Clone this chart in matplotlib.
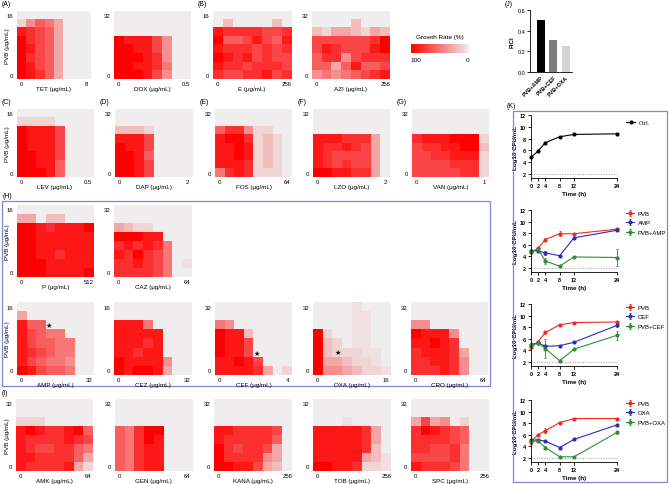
import numpy as np
import matplotlib
matplotlib.use('Agg')
import matplotlib.pyplot as plt
from matplotlib.colors import LinearSegmentedColormap
from matplotlib.patches import Rectangle

# ---------------- data: growth rate (%) / 10, rows top (high PVB) -> bottom (PVB 0)
TET = [[0,0,0,0,0,0,0,0],[1,4,6,5,3,0,0,0],[9,8,7,6,3,0,0,0],[10,8,7,6,3,0,0,0],
       [10,9,7,6,3,0,0,0],[10,8,7,6,3,0,0,0],[10,9,7,6,3,0,0,0],[10,9,8,6,3,0,0,0]]
DOX = [[0,0,0,0,0,0,0,0],[0,0,0,0,0,0,0,0],[0,0,0,0,0,0,0,0],[10,9,9,9,7,4,0,0],
       [10,10,9,9,7,4,0,0],[10,10,10,9,8,4,0,0],[10,10,9,9,8,5,0,0],[10,10,10,9,7,4,0,0]]
E = [[0,0,0,0,0,0,0,0],[0,2,0,0,0,0,2,0],[9,8,8,8,8,7,7,8],[10,6,6,7,9,7,6,9],
     [9,8,8,8,7,8,7,8],[10,9,8,9,7,8,7,7],[9,8,8,7,8,8,8,7],[8,7,7,8,8,9,7,8]]
AZI = [[0,0,0,0,0,0,0,0],[0,0,0,0,2,0,0,0],[2,1,3,3,2,1,3,2],[7,7,7,7,7,7,8,10],
       [7,9,8,7,7,7,9,10],[6,8,8,4,7,8,8,8],[6,6,3,6,9,6,6,7],[4,5,4,5,6,7,8,9]]
LEV = [[0,0,0,0,0,0,0,0],[1,1,1,1,0,0,0,0],[10,9,9,9,7,0,0,0],[10,9,9,9,7,0,0,0],
       [10,9,9,9,7,0,0,0],[10,10,9,9,7,0,0,0],[10,10,9,9,6,0,0,0],[10,10,10,9,6,0,0,0]]
DAP = [[0,0,0,0,0,0,0,0],[0,0,0,0,0,0,0,0],[2,2,2,1,0,0,0,0],[9,9,9,7,0,0,0,0],
       [10,9,9,7,0,0,0,0],[10,10,9,6,0,0,0,0],[10,10,9,7,0,0,0,0],[10,10,9,7,0,0,0,0]]
FOS = [[0,0,0,0,0,0,0,0],[0,0,0,0,0,0,0,0],[6,8,8,4,1,1,0,0],[9,10,10,8,1,2,1,0],
       [9,9,10,9,1,2,1,0],[9,9,10,9,1,2,1,0],[9,9,9,8,1,2,1,0],[5,8,9,8,1,1,1,0]]
LZO = [[0,0,0,0,0,0,0,0],[0,0,0,0,0,0,0,0],[0,0,0,0,0,0,0,0],[9,9,9,8,8,8,3,0],
       [9,8,8,9,8,7,3,0],[9,8,7,7,7,7,3,0],[9,8,7,8,7,7,3,0],[10,10,9,9,8,8,3,0]]
VAN = [[0,0,0,0,0,0,0,0],[0,0,0,0,0,0,0,0],[0,0,0,0,0,0,0,0],[8,9,9,9,10,10,10,1],
       [7,8,8,9,9,10,10,2],[7,7,8,8,9,9,9,1],[7,7,7,7,8,8,8,1],[7,7,7,7,7,8,8,1]]
P = [[0,0,0,0,0,0,0,0],[3,3,0,2,2,0,0,0],[10,10,9,8,9,9,9,10],[10,10,9,9,9,9,9,9],
     [10,10,9,9,9,9,9,9],[10,10,9,9,8,9,9,9],[10,10,10,9,9,9,9,9],[10,10,10,9,9,9,9,10]]
CAZ = [[0,0,0,0,0,0,0,0],[0,0,0,0,0,0,0,0],[3,2,1,1,0,0,0,0],[10,10,10,9,9,0,0,0],
       [8,9,8,9,8,5,0,0],[9,8,10,8,7,5,0,0],[8,8,9,8,7,5,0,0.5],[8,8,8,8,7,5,0,0]]
AMP = [[0,0,0,0,0,0,0,0],[3,0,0,0,0,0,0,0],[9,6,6,0,0,0,0,0],[9,7,6,5,5,0,0,0],
       [9,7,6,6,5,5,0,0],[9,8,7,6,5,5,0,0],[9,7,6,5,5,4,0,0],[10,9,7,6,6,5,0,0]]
CEZ = [[0,0,0,0,0,0,0,0],[0,0,0,0,0,0,0,0],[9,9,9,5,0,0,0,0],[9,9,9,9,9,0,0,0],
       [9,9,9,8,9,0,0,0],[9,9,8,9,9,0,0,0],[10,9,9,9,9,4,0,0],[10,9,10,10,9,3,0,0]]
CEF = [[0,0,0,0,0,0,0,0],[0,0,0,0,0,0,0,0],[5,4,0,0,0,0,0,0],[10,9,9,2,0,0,0,0],
       [10,9,9,7,0,0,0,0],[10,9,9,7,0,0,0,0],[9,9,10,9,7,0,0,0],[9,9,9,9,8,3,0,1]]
OXA = [[0,0,0,0,0.5,0,0,0],[0,0,0,0,0.5,0.5,0,0],[0,0,0,0,0.5,0.5,0,0],[10,1,0,0,0.5,0.5,0,0],
       [10,2,1,0,0.5,0.5,0,0],[10,2,1,1,1,0.5,0.5,0],[10,3,3,2,1,1,0.5,0],[10,4,4,3,2,1,1,0.5]]
CRO = [[0,0,0,0,0,0,0,0],[0,0,0,0,0,0,0,0],[4,4,0,0,0,0,0,0],[10,9,9,9,4,0,0,0],
       [9,9,10,9,8,0,0,0],[8,9,9,9,8,3,0,0],[8,8,9,9,8,4,0,0],[8,8,8,9,8,4,0,0]]
AMK = [[0,0,0,0,0,0,0,0],[0,0,0,0,0,0,0,0],[1,1,1,0,0,0,0,0],[9,10,9,8,8,9,10,6],
       [9,8,8,8,8,9,8,7],[9,8,7,7,8,8,6,5],[9,9,8,8,8,8,6,3],[9,8,8,8,8,9,3,1]]
GEN = [[0,0,0,0,0,0,0,0],[0,0,0,0,0,0,0,0],[0,0,0,0,0,0,0,0],[6,5,8,10,10,0,0,0],
       [6,5,8,10,9,0,0,0],[6,5,8,9,9,0,0,0],[6,5,8,9,9,0,0,0],[6,5,8,9,9,0,0,0]]
KANA = [[0,0,0,0,0,0,0,0],[0,0,0,0,0,0,0,0],[0,0,0,0,0,0,0,0],[9,9,8,8,8,8,7,0],
        [9,8,8,8,8,8,6,0],[10,8,7,8,8,7,3,0],[10,8,8,8,8,4,3,0],[10,10,9,9,7,3,2,0]]
TOB = [[0,0,0,0,0,0,0,0],[0,0,0,0,0,0,0,0],[0,0,0,0.5,0,0,0,0],[9,9,9,9,9,8,3,0],
       [9,9,9,9,9,8,3,0],[9,9,9,9,9,8,2,0],[9,9,9,9,9,3,2,0.5],[10,10,9,9,8,1,1,0.5]]
SPC = [[0,0,0,0,0,0,0,0],[0,0,0,0,0,0,0,0],[3,7,3,4,0,1,0,0],[8,10,9,8,7,6,0,0],
       [8,8,8,8,7,6,0,0],[8,8,7,7,8,5,0,0],[7,7,7,7,8,5,0,0],[9,8,8,8,7,5,0,0]]

# name, matrix, x max label, y max label
HEATMAPS = [
    ("TET", TET, "8", "16"), ("DOX", DOX, "0.5", "32"), ("E", E, "256", "16"), ("AZI", AZI, "256", "32"),
    ("LEV", LEV, "0.5", "16"), ("DAP", DAP, "2", "32"), ("FOS", FOS, "64", "32"), ("LZO", LZO, "2", "32"),
    ("VAN", VAN, "1", "32"),
    ("P", P, "512", "16"), ("CAZ", CAZ, "64", "32"),
    ("AMP", AMP, "32", "16"), ("CEZ", CEZ, "32", "16"), ("CEF", CEF, "4", "32"), ("OXA", OXA, "16", "32"),
    ("CRO", CRO, "64", "32"),
    ("AMK", AMK, "64", "32"), ("GEN", GEN, "64", "32"), ("KANA", KANA, "256", "32"), ("TOB", TOB, "256", "32"),
    ("SPC", SPC, "256", "32"),
]
STARS = {"AMP": (3.3, 5.5), "CEF": (4.35, 2.4), "OXA": (2.5, 2.5)}

# FICI bar chart
FICI_LABELS = ["PVB+AMP", "PVB+CEF", "PVB+OXA"]
FICI_VALUES = [0.5, 0.3125, 0.25]
FICI_COLORS = ["#000000", "#7f7f7f", "#d4d4d4"]

# time-kill curves
TIME = [0, 2, 4, 8, 12, 24]
CTRL = [4.8, 5.9, 7.3, 8.3, 8.7, 8.8]
PVB_1 = [4.7, 5.4, 6.9, 7.9, 7.9, 8.7]
AMP_K = [5.0, 4.9, 4.6, 4.1, 7.2, 8.5]
PVB_AMP = [4.8, 5.2, 3.2, 2.3, 3.9, 3.8]
PVB_2 = [4.6, 5.5, 7.1, 8.4, 8.8, 8.9]
CEF_K = [5.0, 5.3, 4.7, 4.8, 5.4, 8.3]
PVB_CEF = [4.9, 5.3, 4.3, 2.2, 4.2, 6.6]
PVB_3 = [4.8, 6.0, 6.7, 8.1, 8.8, 8.8]
OXA_K = [5.1, 5.1, 4.9, 3.8, 5.2, 7.7]
PVB_OXA = [4.9, 4.9, 3.8, 2.2, 2.2, 6.4]
ERR_PVB_1 = [0.2, 0.2, 0.2, 0.4, 0.2, 0.2]
ERR_AMP = [0.2, 0.2, 0.4, 0.1, 0.1, 0.2]
ERR_PVB_AMP = [0.2, 0.3, 0.6, 0.2, 0.2, 1.5]
ERR_PVB_2 = [0.3, 0.2, 0.2, 0.2, 0.1, 0.1]
ERR_CEF = [0.2, 0.2, 0.2, 0.2, 0.1, 0.2]
ERR_PVB_CEF = [0.2, 0.2, 1.6, 0.2, 0.2, 0.8]
ERR_PVB_3 = [0.4, 0.2, 0.4, 0.1, 0.1, 0.1]
ERR_OXA = [0.2, 0.2, 0.1, 0.1, 0.1, 0.1]
ERR_PVB_OXA = [0.2, 0.2, 0.3, 0.1, 0.1, 0.2]

# ---------------- figure
plt.rcParams['font.family'] = ['Liberation Sans', 'DejaVu Sans']
W, H = 669, 485
fig = plt.figure(figsize=(W / 100, H / 100), dpi=100)


def px_axes(x0, y0, x1, y1):
    return fig.add_axes([x0 / W, 1 - y1 / H, (x1 - x0) / W, (y1 - y0) / H])


def ftext(x, y, s, **kw):
    fig.text(x / W, 1 - y / H, s, **kw)


cmap = LinearSegmentedColormap.from_list('gr', ['#efeded', '#ff0000'])

HEAT_POS = {
    "TET": (17, 12, 91, 80), "DOX": (114, 12, 191, 80), "E": (213, 12, 291, 80), "AZI": (312, 12, 390, 80),
    "LEV": (17, 110, 93, 178), "DAP": (115, 110, 192, 178), "FOS": (215, 110, 292, 178),
    "LZO": (313, 110, 390, 178), "VAN": (412, 110, 489, 178),
    "P": (17, 206, 94, 278), "CAZ": (114, 206, 192, 278),
    "AMP": (17, 303, 94, 376), "CEZ": (114, 303, 192, 376), "CEF": (215, 303, 292, 376),
    "OXA": (313, 303, 391, 376), "CRO": (411, 303, 488, 376),
    "AMK": (16, 400, 93, 472), "GEN": (115, 400, 192, 472), "KANA": (214, 400, 292, 472),
    "TOB": (313, 400, 391, 472), "SPC": (411, 400, 489, 472),
}
YLABEL_PANELS = {"TET", "LEV", "P", "AMP", "AMK"}

for name, mat, xmax, ymax in HEATMAPS:
    x0, y0, x1, y1 = HEAT_POS[name]
    ax = px_axes(x0, y0, x1, y1)
    ax.imshow(np.array(mat) * 10, cmap=cmap, vmin=0, vmax=100, aspect='auto',
              interpolation='nearest', extent=(0, 8, 0, 8))
    ax.set_xlim(0, 8)
    ax.set_ylim(0, 8)
    ax.set_xticks([0.5, 7.5])
    ax.set_xticklabels(["0", xmax])
    ax.set_yticks([0.5, 7.5])
    ax.set_yticklabels(["0", ymax])
    ax.tick_params(length=0, labelsize=4.3)
    ax.tick_params(axis='x', pad=1.2)
    ax.tick_params(axis='y', pad=2.5)
    for s in ax.spines.values():
        s.set_visible(False)
    ftext((x0 + x1) / 2, y1 + 9.5, f"{name} (μg/mL)", fontsize=4.5, ha='center', va='center')
    if name in YLABEL_PANELS:
        ftext(7, (y0 + y1) / 2, "PVB (μg/mL)", rotation=90, fontsize=4.5, ha='center', va='center')
    if name in STARS:
        sx, sy = STARS[name]
        ax.text(sx, sy, "★", fontsize=5, ha='center', va='center', color='black',
                family='DejaVu Sans')

# colorbar legend
cax = px_axes(411, 45, 469, 54)
grad = np.linspace(100, 0, 256).reshape(1, -1)
cax.imshow(grad, cmap=cmap, vmin=0, vmax=100, aspect='auto', extent=(0, 1, 0, 1))
cax.set_axis_off()
ftext(440, 38, "Growth Rate (%)", fontsize=4.6, ha='center', va='center')
ftext(416, 61, "100", fontsize=4.6, ha='center', va='center')
ftext(468, 61, "0", fontsize=4.6, ha='center', va='center')

# panel labels
for lab, x, y in [("(A)", 2, 4), ("(B)", 198, 4), ("(C)", 2, 102), ("(D)", 100, 102), ("(E)", 200, 102),
                  ("(F)", 298, 102), ("(G)", 397, 102), ("(H)", 3, 197), ("(I)", 2, 394),
                  ("(J)", 505, 5), ("(K)", 507, 107)]:
    ftext(x, y, lab, fontsize=5, ha='left', va='center')

# boxes
box_col = '#8585d6'
fig.add_artist(Rectangle((2 / W, 1 - 387 / H), 488 / W, 185 / H, transform=fig.transFigure,
                         fill=False, edgecolor=box_col, lw=0.9))
fig.add_artist(Rectangle((513 / W, 1 - 483 / H), 154 / W, 371 / H, transform=fig.transFigure,
                         fill=False, edgecolor=box_col, lw=0.9))

# ---------------- J: FICI bars
bx = px_axes(530, 11, 572, 73)
bx.bar(range(len(FICI_VALUES)), FICI_VALUES, width=0.65, color=FICI_COLORS)
bx.set_xlim(-0.9, 2.5)
bx.set_ylim(0, 0.6)
bx.set_yticks([0.0, 0.2, 0.4, 0.6])
bx.set_yticklabels(["0.0", "0.2", "0.4", "0.6"])
bx.set_xticks(range(len(FICI_LABELS)))
bx.set_xticklabels(FICI_LABELS, rotation=45, ha='right', rotation_mode='anchor', fontweight='bold')
bx.tick_params(labelsize=4, length=2, width=0.6, pad=1.5)
bx.tick_params(axis='x', length=0)
for s in ['top', 'right']:
    bx.spines[s].set_visible(False)
for s in ['left', 'bottom']:
    bx.spines[s].set_linewidth(0.6)
bx.set_ylabel("FICI", fontsize=4.5, fontweight='bold', labelpad=2)

# ---------------- K: time-kill curves
RED, BLUE, GREEN = '#ee2a24', '#2b2bb8', '#2f8f34'


def kill_axes(ytop, ybot):
    ax = px_axes(531, ytop, 617, ybot)
    ax.set_xlim(0, 24)
    ax.set_ylim(1.3, 12)
    ax.set_xticks(TIME)
    ax.set_yticks([2, 4, 6, 8, 10, 12])
    ax.tick_params(labelsize=4, length=2, width=0.6, pad=1.5)
    for lab in ax.get_xticklabels() + ax.get_yticklabels():
        lab.set_fontweight('bold')
    for s in ['top', 'right']:
        ax.spines[s].set_visible(False)
    for s in ['left', 'bottom']:
        ax.spines[s].set_linewidth(0.6)
    ax.plot([0, 24], [2, 2], ls=':', color='#999999', lw=0.7)
    ax.set_xlabel("Time (h)", fontsize=4.5, fontweight='bold', labelpad=2)
    ax.set_ylabel("Log10 CFU/mL", fontsize=4.5, fontweight='bold', labelpad=1.5)
    return ax


def series(ax, y, err, color, label):
    ax.errorbar(TIME, y, yerr=err, color=color, marker='o', ms=2, lw=0.8, elinewidth=0.6,
                capsize=1, capthick=0.6, label=label, clip_on=False)


LEG_KW = dict(loc='upper left', frameon=False, handlelength=1.3, handletextpad=0.6,
              borderpad=0, borderaxespad=0)

k1 = kill_axes(116, 179)
k1.plot(TIME, CTRL, color='black', marker='o', ms=2, lw=0.8, label='Ctrl.', clip_on=False)
k1.legend(bbox_to_anchor=(1.11, 0.92), prop={'family': 'Liberation Serif', 'size': 4.5}, **LEG_KW)

for (yt, yb, ys, errs, labels) in [
    (211, 273, (PVB_1, AMP_K, PVB_AMP), (ERR_PVB_1, ERR_AMP, ERR_PVB_AMP), ("PVB", "AMP", "PVB+AMP")),
    (305, 367, (PVB_2, CEF_K, PVB_CEF), (ERR_PVB_2, ERR_CEF, ERR_PVB_CEF), ("PVB", "CEF", "PVB+CEF")),
    (401, 463, (PVB_3, OXA_K, PVB_OXA), (ERR_PVB_3, ERR_OXA, ERR_PVB_OXA), ("PVB", "OXA", "PVB+OXA")),
]:
    ax = kill_axes(yt, yb)
    for y, e, c, l in zip(ys, errs, (RED, BLUE, GREEN), labels):
        series(ax, y, e, c, l)
    ax.legend(bbox_to_anchor=(1.11, 0.99), fontsize=4.3, labelspacing=0.75, **LEG_KW)

fig.savefig("out.png", dpi=100)
